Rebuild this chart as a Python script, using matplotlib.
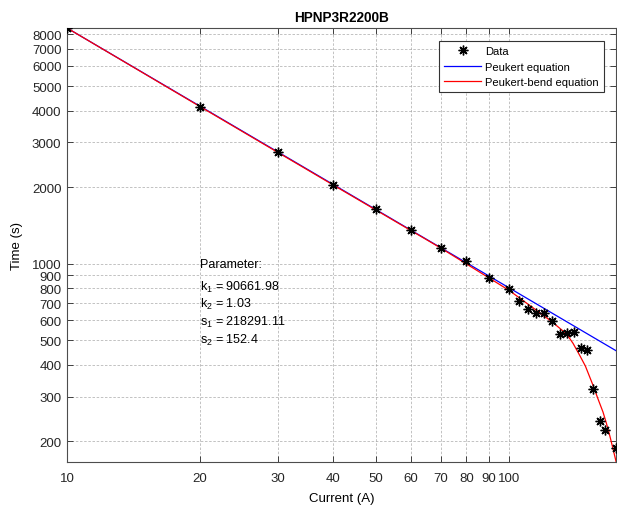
import numpy as np
import matplotlib
matplotlib.use("Agg")
import matplotlib.pyplot as plt
from matplotlib.ticker import FixedLocator, NullFormatter, NullLocator

plt.rcParams['font.family'] = ['Liberation Sans', 'DejaVu Sans']
plt.rcParams['mathtext.fontset'] = 'custom'
plt.rcParams['mathtext.rm'] = 'Liberation Sans'
plt.rcParams['mathtext.it'] = 'Liberation Sans'
plt.rcParams['mathtext.bf'] = 'Liberation Sans:bold'

# measured data
current = [10, 20, 30, 40, 50, 60, 70, 80, 90, 100, 105, 110, 115, 120,
           125, 130, 135, 140, 145, 150, 155, 160, 165, 174]
time_s = [8450, 4150, 2742, 2040, 1646, 1352, 1153, 1021, 878, 797, 713,
          665, 641, 641, 598, 527, 535, 541, 467, 457, 322, 240, 221, 189]

# Peukert fit (straight line in log-log)
peuk_i = [10, 174.3]
peuk_t = [8461, 455]

# Peukert-bend fit
bend_i = [10, 20, 40, 70, 100, 112.6, 124.6, 134.7, 139.4, 144.3, 148.6,
          154.7, 158.7, 162.9, 165.9, 168.7, 171.5, 174.3]
bend_t = [8461, 4150, 2040, 1153, 785, 675, 593, 530, 486, 436, 396,
          332, 294, 261, 235, 211, 188, 167]

params = ["k$_1$ = 90661.98", "k$_2$ = 1.03", "s$_1$ = 218291.11", "s$_2$ = 152.4"]
param_y = [812, 696, 591, 502]

yticks = [200, 300, 400, 500, 600, 700, 800, 900,
          1000, 2000, 3000, 4000, 5000, 6000, 7000, 8000]
xticks = [10, 20, 30, 40, 50, 60, 70, 80, 90, 100]

fig = plt.figure(figsize=(6.17, 5.06), dpi=100)
ax = fig.add_axes([67 / 617, 1 - 463 / 506, 549 / 617, 434 / 506])

ax.plot(current, time_s, linestyle='none', marker=(8, 2, 0), ms=7, mew=1.0,
        color='black', label='Data', zorder=4)
ax.plot(peuk_i, peuk_t, color='blue', lw=0.9, label='Peukert equation', zorder=3)
ax.plot(bend_i, bend_t, color='red', lw=0.9, label='Peukert-bend equation', zorder=3)

ax.set_xscale('log')
ax.set_yscale('log')
ax.set_xlim(10, 174.3)
ax.set_ylim(166, 8461)

ax.xaxis.set_major_locator(FixedLocator(xticks))
ax.xaxis.set_minor_locator(NullLocator())
ax.set_xticklabels([str(v) for v in xticks])
ax.yaxis.set_major_locator(FixedLocator(yticks))
ax.yaxis.set_minor_locator(NullLocator())
ax.set_yticklabels([str(v) for v in yticks])
ax.xaxis.set_minor_formatter(NullFormatter())
ax.yaxis.set_minor_formatter(NullFormatter())

ax.tick_params(which='both', direction='in', top=True, right=True,
               length=4, width=0.6, colors='0.15', labelsize=9.5, pad=4)
ax.tick_params(axis='x', pad=7)
ax.grid(True, which='major', color='0.6', lw=0.6, linestyle=(0, (3, 2)), alpha=0.7)
for sp in ax.spines.values():
    sp.set_color('0.3')
    sp.set_linewidth(0.8)

ax.set_title('HPNP3R2200B', fontsize=9.8, fontweight='bold', pad=5)
ax.set_xlabel('Current (A)', fontsize=9.5, labelpad=6)
ax.set_ylabel('Time (s)', fontsize=9.5, labelpad=6)

ax.text(20, 1000, 'Parameter:', fontsize=9, va='center', ha='left')
for s, y in zip(params, param_y):
    ax.text(20, y, s, fontsize=9, va='center', ha='left')

leg = ax.legend(loc='upper right', bbox_to_anchor=(604 / 617, 1 - 42 / 506),
                bbox_transform=fig.transFigure, fontsize=8, frameon=True,
                fancybox=False, edgecolor='0.2', framealpha=1, borderaxespad=0,
                borderpad=0.45, labelspacing=0.5, handlelength=3.3, handletextpad=0.4)
leg.get_frame().set_linewidth(0.8)

fig.savefig('out.png', dpi=100)
